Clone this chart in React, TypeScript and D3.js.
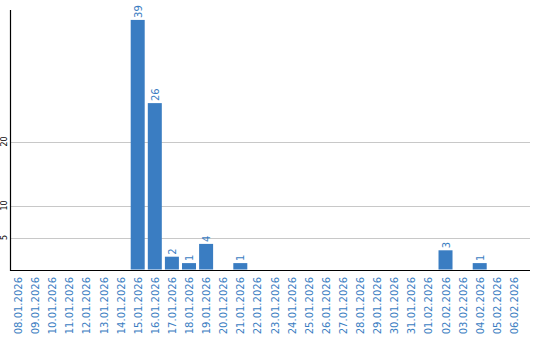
import React from "react";
import * as d3 from "d3";

const categories = [
  "08.01.2026","09.01.2026","10.01.2026","11.01.2026","12.01.2026","13.01.2026","14.01.2026",
  "15.01.2026","16.01.2026","17.01.2026","18.01.2026","19.01.2026","20.01.2026","21.01.2026",
  "22.01.2026","23.01.2026","24.01.2026","25.01.2026","26.01.2026","27.01.2026","28.01.2026",
  "29.01.2026","30.01.2026","31.01.2026","01.02.2026","02.02.2026","03.02.2026","04.02.2026",
  "05.02.2026","06.02.2026",
];
const values = [0,0,0,0,0,0,0,39,26,2,1,4,0,1,0,0,0,0,0,0,0,0,0,0,0,3,0,1,0,0];
const yTicks = [5, 10, 20];

const W = 540, H = 340;
const BLUE = "#3a7dc2";

export default function App() {
  const x = d3.scaleBand<string>().domain(categories).range([11, 11 + 17 * categories.length]).paddingInner(3 / 17).paddingOuter(0);
  const y = d3.scaleLinear().domain([0, 40.55]).range([269.5, 10]);
  const bw = 14;
  return (
    <div style={{ position: "fixed", left: 0, top: 0 }}>
      <svg width={W} height={H} style={{ display: "block", fontFamily: "DejaVu Sans, Verdana, sans-serif" }}>
        <rect width={W} height={H} fill="#fff" />
        {yTicks.map((t) => (
          <g key={t}>
            <line x1={11} x2={530} y1={Math.round(y(t)) + 0.5} y2={Math.round(y(t)) + 0.5} stroke="#c8c8c8" />
            <text transform={`translate(7,${y(t)}) rotate(-90)`} textAnchor="middle" fontSize={8} fill="#000">{t}</text>
          </g>
        ))}
        {categories.map((c, i) => {
          const v = values[i];
          const bx = x(c)!;
          return (
            <g key={c}>
              {v > 0 && (
                <>
                  <rect x={bx} y={y(v)} width={bw} height={269.5 - y(v)} fill={BLUE} />
                  <text transform={`translate(${bx + bw / 2 + 4},${y(v) - 2}) rotate(-90)`} fontSize={10} fill={BLUE}>{v}</text>
                </>
              )}
              <text transform={`translate(${bx + bw / 2 + 4},277) rotate(-90)`} textAnchor="end" fontSize={10} fill={BLUE}>{c}</text>
            </g>
          );
        })}
        <line x1={10.5} x2={10.5} y1={10} y2={271} stroke="#000" strokeWidth={1.2} />
        <line x1={10} x2={530} y1={270.5} y2={270.5} stroke="#000" strokeWidth={1.2} />
      </svg>
    </div>
  );
}
